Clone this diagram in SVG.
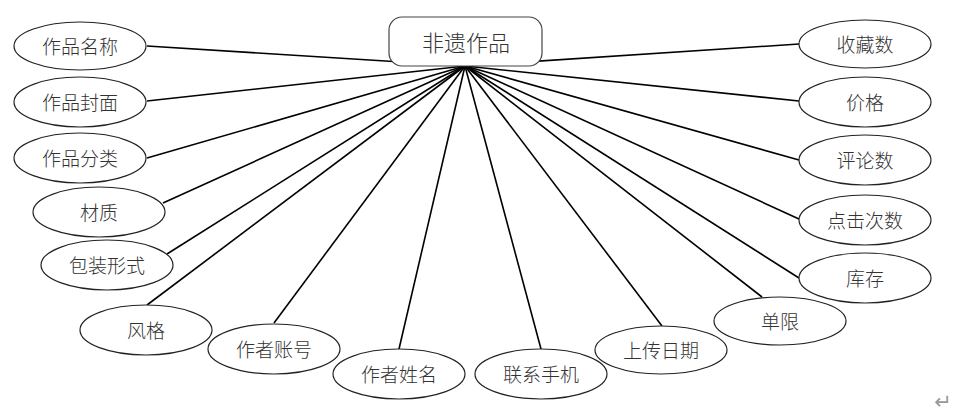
<svg xmlns="http://www.w3.org/2000/svg" width="967" height="415" viewBox="0 0 967 415">
<style>
.e{fill:#fff;stroke:#222;stroke-width:1.2}
.t{font-family:"Noto Sans CJK SC","Noto Sans CJK JP",sans-serif;font-size:19px;font-weight:300;fill:#333;text-anchor:middle;dominant-baseline:central}
.c line{stroke:#000;stroke-width:1.6}
</style>
<rect width="967" height="415" fill="#fff"/>
<g class="c" id="connectors">
<line x1="465" y1="66" x2="147" y2="46"/>
<line x1="465" y1="66" x2="147" y2="101"/>
<line x1="465" y1="66" x2="147" y2="158"/>
<line x1="465" y1="66" x2="163" y2="203"/>
<line x1="465" y1="66" x2="167" y2="254"/>
<line x1="465" y1="66" x2="147" y2="305"/>
<line x1="465" y1="66" x2="274" y2="323"/>
<line x1="465" y1="66" x2="399" y2="349"/>
<line x1="465" y1="66" x2="541" y2="349"/>
<line x1="465" y1="66" x2="662" y2="326"/>
<line x1="465" y1="66" x2="762" y2="297"/>
<line x1="465" y1="66" x2="799" y2="44"/>
<line x1="465" y1="66" x2="799" y2="101"/>
<line x1="465" y1="66" x2="799" y2="160"/>
<line x1="465" y1="66" x2="799" y2="219"/>
<line x1="465" y1="66" x2="799" y2="278"/>
</g>
<g id="center"><rect x="389" y="17" width="153" height="49" rx="13" fill="#fff" stroke="#444" stroke-width="1.2"/><text class="t" x="466" y="41" style="font-size:22px">非遗作品</text></g>
<g id="n1"><ellipse class="e" cx="80" cy="46" rx="66" ry="24"/><text class="t" x="80" y="45">作品名称</text></g>
<g id="n2"><ellipse class="e" cx="80" cy="102" rx="66" ry="25"/><text class="t" x="80" y="101">作品封面</text></g>
<g id="n3"><ellipse class="e" cx="80" cy="158" rx="66" ry="25"/><text class="t" x="80" y="157">作品分类</text></g>
<g id="n4"><ellipse class="e" cx="99" cy="212" rx="66" ry="25"/><text class="t" x="99" y="211">材质</text></g>
<g id="n5"><ellipse class="e" cx="107" cy="265" rx="66" ry="25"/><text class="t" x="107" y="264">包装形式</text></g>
<g id="n6"><ellipse class="e" cx="146" cy="330" rx="66" ry="25"/><text class="t" x="146" y="329">风格</text></g>
<g id="n7"><ellipse class="e" cx="274" cy="349" rx="66" ry="25"/><text class="t" x="274" y="348">作者账号</text></g>
<g id="n8"><ellipse class="e" cx="399" cy="374" rx="66" ry="25"/><text class="t" x="399" y="373">作者姓名</text></g>
<g id="n9"><ellipse class="e" cx="541" cy="374" rx="66" ry="25"/><text class="t" x="541" y="373">联系手机</text></g>
<g id="n10"><ellipse class="e" cx="661" cy="350" rx="66" ry="24"/><text class="t" x="661" y="349">上传日期</text></g>
<g id="n11"><ellipse class="e" cx="780" cy="321" rx="66" ry="24"/><text class="t" x="780" y="320">单限</text></g>
<g id="n12"><ellipse class="e" cx="865" cy="44" rx="66" ry="24"/><text class="t" x="865" y="43">收藏数</text></g>
<g id="n13"><ellipse class="e" cx="865" cy="102" rx="66" ry="25"/><text class="t" x="865" y="101">价格</text></g>
<g id="n14"><ellipse class="e" cx="865" cy="160" rx="66" ry="25"/><text class="t" x="865" y="159">评论数</text></g>
<g id="n15"><ellipse class="e" cx="865" cy="220" rx="66" ry="25"/><text class="t" x="865" y="219">点击次数</text></g>
<g id="n16"><ellipse class="e" cx="865" cy="278" rx="66" ry="25"/><text class="t" x="865" y="277">库存</text></g>
<text x="943" y="409" style="font-family:'DejaVu Sans',sans-serif;font-size:21px;fill:#999;text-anchor:middle">↵</text>
</svg>
